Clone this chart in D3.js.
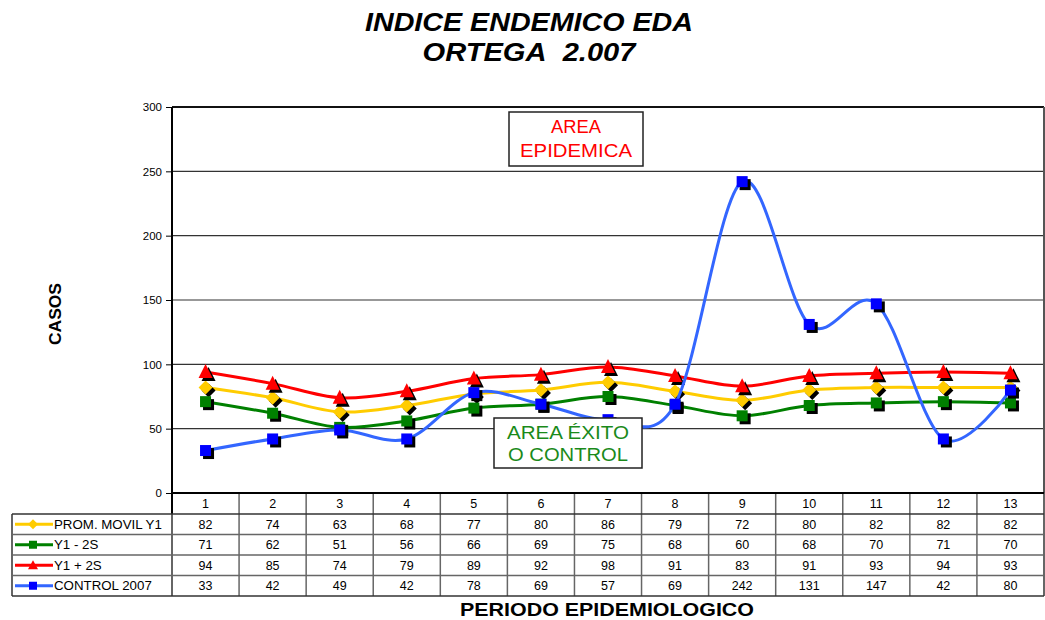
<!DOCTYPE html>
<html><head><meta charset="utf-8">
<script src="https://cdn.jsdelivr.net/npm/d3@7"></script>
<style>body{margin:0;background:#fff;}svg{display:block;font-family:Arial,"Liberation Sans",sans-serif;}</style>
</head><body>
<svg id="c" width="1045" height="620"></svg>
<script>
const periods = ["1","2","3","4","5","6","7","8","9","10","11","12","13"];
const promMovil = [82,74,63,68,77,80,86,79,72,80,82,82,82];
const y1Minus2S = [71,62,51,56,66,69,75,68,60,68,70,71,70];
const y1Plus2S = [94,85,74,79,89,92,98,91,83,91,93,94,93];
const control2007 = [33,42,49,42,78,69,57,69,242,131,147,42,80];
const yTicks = [0,50,100,150,200,250,300];

const series = [
  {name:"PROM. MOVIL Y1", values:promMovil, line:"#FFCC00", fill:"#FFCC00", shape:"diamond"},
  {name:"Y1 - 2S", values:y1Minus2S, line:"#008000", fill:"#008000", shape:"square"},
  {name:"Y1 + 2S", values:y1Plus2S, line:"#FF0000", fill:"#FF0000", shape:"triangle"},
  {name:"CONTROL 2007", values:control2007, line:"#3366FF", fill:"#0000FF", shape:"square"}
];

const svg = d3.select("#c");
const L = 172, R = 1044, T = 107, B = 493;
const x = d3.scaleBand().domain(periods).range([L, R]);
const y = d3.scaleLinear().domain([0,300]).range([B, T]);

// title
svg.append("text").attr("x",529).attr("y",31).attr("text-anchor","middle")
  .attr("textLength",328).attr("lengthAdjust","spacingAndGlyphs")
  .style("font-weight","bold").style("font-style","italic").style("font-size","26px").text("INDICE ENDEMICO EDA");
svg.append("text").attr("x",529).attr("y",61).attr("text-anchor","middle")
  .attr("textLength",213).attr("lengthAdjust","spacingAndGlyphs").attr("xml:space","preserve")
  .style("font-weight","bold").style("font-style","italic").style("font-size","26px").style("white-space","pre").text("ORTEGA\u00a0\u00a02.007");

// gridlines
svg.append("g").selectAll("line").data(yTicks.filter(d=>d>0)).join("line")
  .attr("x1",L).attr("x2",R).attr("y1",d=>y(d)).attr("y2",d=>y(d))
  .attr("stroke",d=>d===300?"#111":"#333").attr("stroke-width",d=>d===300?2:1.2);
svg.append("line").attr("x1",R).attr("x2",R).attr("y1",T).attr("y2",B).attr("stroke","#555").attr("stroke-width",2);

// y axis
const yAxis = d3.axisLeft(y).tickValues(yTicks).tickSize(6).tickPadding(4);
const gy = svg.append("g").attr("transform",`translate(${L},0)`).call(yAxis);
gy.select(".domain").remove();
gy.selectAll("line").attr("stroke","#000");
gy.selectAll("text").style("font-size","11.5px").style("font-family","Arial,'Liberation Sans',sans-serif").attr("fill","#000");
svg.append("line").attr("x1",L).attr("x2",L).attr("y1",T).attr("y2",514).attr("stroke","#000").attr("stroke-width",2);

// axis labels
svg.append("text").attr("transform","translate(61,314) rotate(-90)").attr("text-anchor","middle")
  .attr("textLength",62).attr("lengthAdjust","spacingAndGlyphs")
  .style("font-weight","bold").style("font-size","17px").text("CASOS");
svg.append("text").attr("x",607).attr("y",616).attr("text-anchor","middle")
  .attr("textLength",294).attr("lengthAdjust","spacingAndGlyphs")
  .style("font-weight","bold").style("font-size","18px").text("PERIODO EPIDEMIOLOGICO");

// lines
const line = d3.line().x((d,i)=>x(periods[i])+x.bandwidth()/2).y(d=>y(d)).curve(d3.curveCardinal.tension(0));

function marker(g, shape, cx, cy, fill){
  if(shape==="diamond"){
    const s=7;
    g.append("path").attr("d",`M${cx},${cy-s}L${cx+s},${cy}L${cx},${cy+s}L${cx-s},${cy}Z`).attr("fill",fill);
  } else if(shape==="square"){
    const s=5.5;
    g.append("rect").attr("x",cx-s).attr("y",cy-s).attr("width",2*s).attr("height",2*s).attr("fill",fill);
  } else {
    const s=7;
    g.append("path").attr("d",`M${cx},${cy-s-1}L${cx+s},${cy+s-1}L${cx-s},${cy+s-1}Z`).attr("fill",fill);
  }
}

series.forEach(s=>{
  const g = svg.append("g");
  g.append("path").attr("d",line(s.values)).attr("fill","none").attr("stroke",s.line).attr("stroke-width",3);
  s.values.forEach((v,i)=>{
    const cx = x(periods[i])+x.bandwidth()/2, cy = y(v);
    marker(g, s.shape, cx+3, cy+3, "#000");
    marker(g, s.shape, cx, cy, s.fill);
  });
});

// annotation boxes
function box(x0,y0,w,h,lines,color,ty,lens){
  svg.append("rect").attr("x",x0).attr("y",y0).attr("width",w).attr("height",h)
    .attr("fill","#fff").attr("stroke","#222").attr("stroke-width",1.5);
  lines.forEach((t,i)=>svg.append("text").attr("x",x0+w/2).attr("y",ty[i]).attr("text-anchor","middle")
    .attr("textLength",lens[i]).attr("lengthAdjust","spacingAndGlyphs")
    .attr("fill",color).style("font-size","19px").text(t));
}
box(509,112,134,54,["AREA","EPIDEMICA"],"#FF0000",[133,157],[50,112]);
box(494,418,148,50,["AREA ÉXITO","O CONTROL"],"#1A8A1A",[439,461],[122,120]);

// data table
const rowTop = 514, rowH = 20.5;
const tg = svg.append("g");
const gridC = "#666";
tg.selectAll(".hdr").data(periods).join("text")
  .attr("x",d=>x(d)+x.bandwidth()/2).attr("y",508).attr("text-anchor","middle")
  .style("font-size","12.5px").text(d=>d);
periods.forEach((p,i)=>{ if(i>0) tg.append("line").attr("x1",x(p)).attr("x2",x(p)).attr("y1",B).attr("y2",rowTop+4*rowH).attr("stroke",gridC).attr("stroke-width",1.5); });
tg.append("line").attr("x1",R).attr("x2",R).attr("y1",B).attr("y2",rowTop+4*rowH).attr("stroke",gridC).attr("stroke-width",2);
tg.append("line").attr("x1",12).attr("x2",12).attr("y1",rowTop).attr("y2",rowTop+4*rowH).attr("stroke","#333").attr("stroke-width",1.5);
tg.append("line").attr("x1",L).attr("x2",L).attr("y1",rowTop).attr("y2",rowTop+4*rowH).attr("stroke","#333").attr("stroke-width",1.5);
for(let r=0;r<=4;r++){
  tg.append("line").attr("x1",12).attr("x2",R).attr("y1",rowTop+r*rowH).attr("y2",rowTop+r*rowH)
    .attr("stroke",r===0||r===4?"#333":gridC).attr("stroke-width",1.5);
}
tg.append("line").attr("x1",L).attr("x2",R).attr("y1",B).attr("y2",B).attr("stroke","#000").attr("stroke-width",2);

series.forEach((s,r)=>{
  const cy = rowTop + r*rowH + rowH/2;
  tg.append("line").attr("x1",15).attr("x2",53).attr("y1",cy).attr("y2",cy).attr("stroke",s.line).attr("stroke-width",3);
  const mg = tg.append("g");
  if(s.shape==="diamond"){
    mg.append("path").attr("d",`M33,${cy-5}L38,${cy}L33,${cy+5}L28,${cy}Z`).attr("fill",s.fill);
  } else if(s.shape==="square"){
    mg.append("rect").attr("x",29).attr("y",cy-4).attr("width",8).attr("height",8).attr("fill",s.fill);
  } else {
    mg.append("path").attr("d",`M33,${cy-5}L38,${cy+4}L28,${cy+4}Z`).attr("fill",s.fill);
  }
  tg.append("text").attr("x",54).attr("y",cy+4.5).style("font-size","13.3px").text(s.name);
  tg.selectAll(null).data(s.values).join("text")
    .attr("x",(d,i)=>x(periods[i])+x.bandwidth()/2).attr("y",cy+4.5).attr("text-anchor","middle")
    .style("font-size","12.5px").text(d=>d);
});
</script>
</body></html>
